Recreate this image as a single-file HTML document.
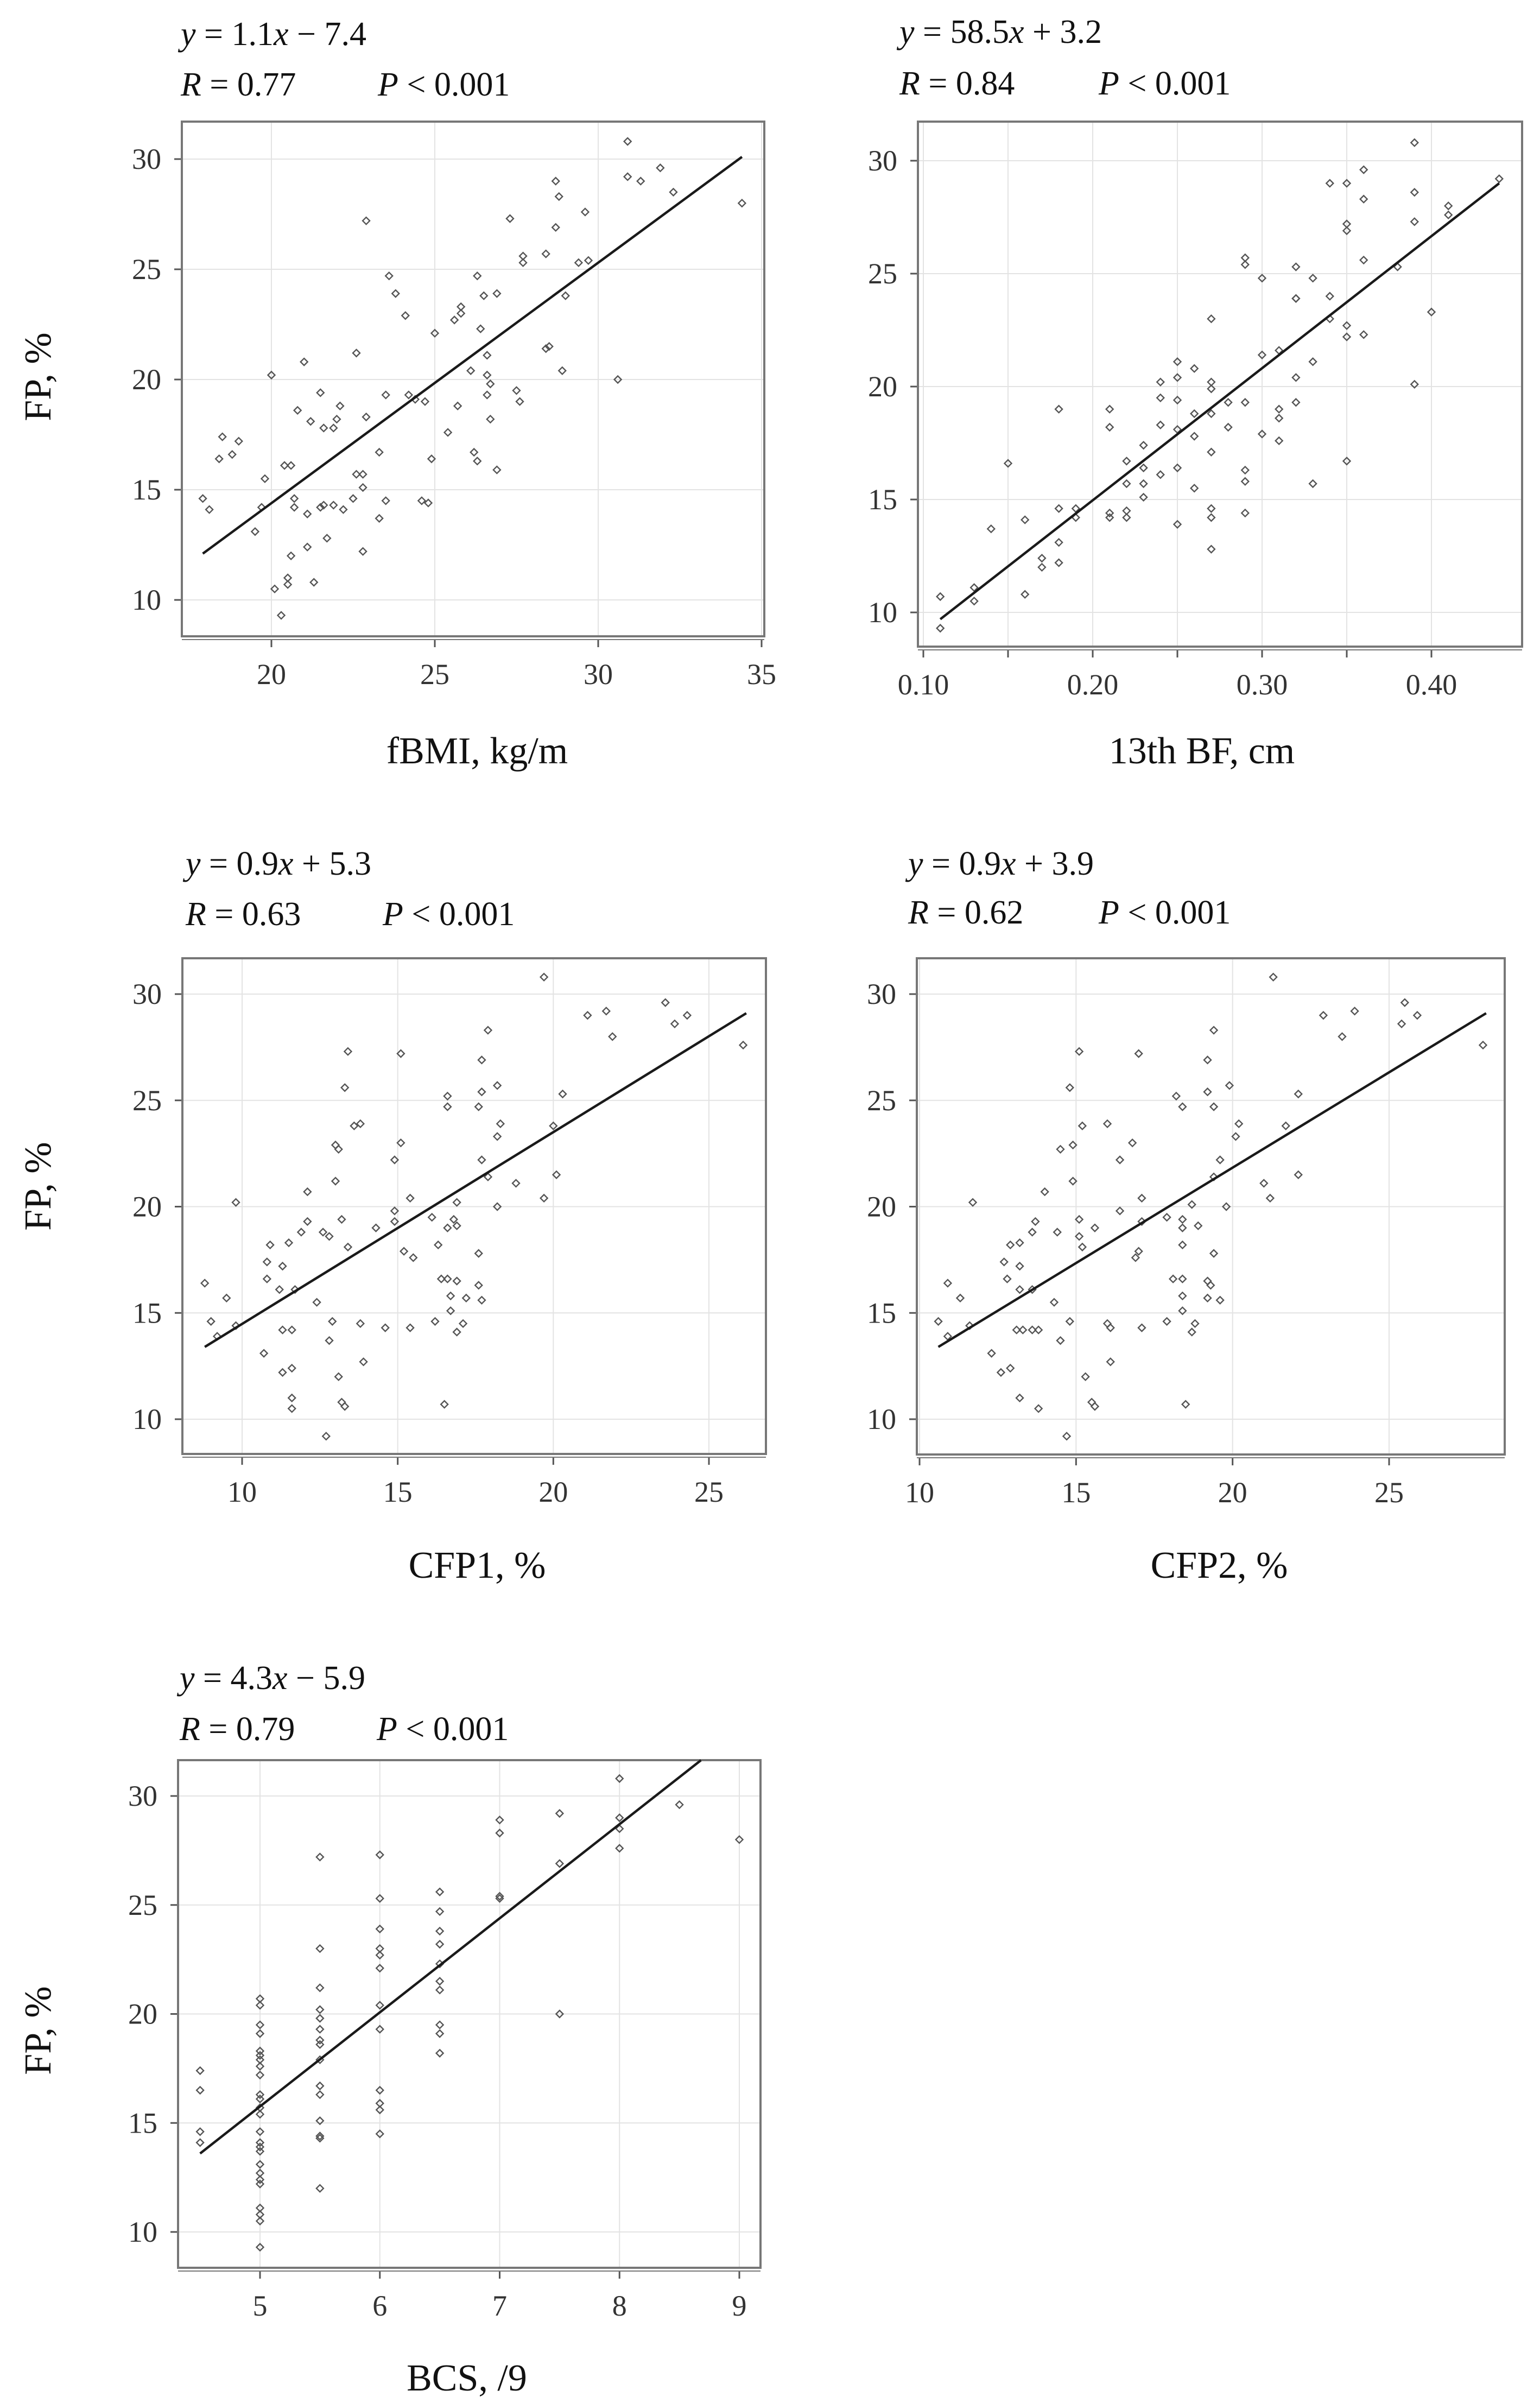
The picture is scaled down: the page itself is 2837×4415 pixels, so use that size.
<!DOCTYPE html>
<html><head><meta charset="utf-8">
<style>
html,body{margin:0;padding:0;background:#fff;}
svg{display:block;font-family:"Liberation Serif",serif;}
</style></head>
<body>
<svg id="fig" width="2837" height="4415" viewBox="0 0 2837 4415" xmlns="http://www.w3.org/2000/svg">
<rect width="2837" height="4415" fill="#fff"/>
</svg>
<script>
// ---- Panel 1: fBMI ----
const p1x=[30.9,30.9,31.3,31.9,32.3,34.4,28.7,28.8,28.7,29.6,29.4,29.7,29.0,28.4,27.7,27.7,27.3,22.9,23.6,23.8,24.1,25.0,25.6,25.8,25.8,26.3,26.5,26.9,26.4,26.1,26.6,26.6,26.7,26.6,26.7,27.5,27.6,28.4,28.5,28.9,30.6,22.6,21.0,20.0,21.5,22.1,20.8,21.2,21.6,21.9,22.0,22.9,23.5,24.2,24.4,24.7,25.7,25.4,24.9,26.2,26.3,26.9,23.3,18.5,19.0,18.4,18.8,19.8,19.7,20.4,20.6,20.7,20.7,21.1,21.5,21.6,21.9,22.2,22.5,22.6,22.8,22.8,23.5,23.3,24.6,24.8,19.5,21.1,21.7,22.8,20.6,20.5,20.5,20.1,21.3,20.3,17.9,18.1];
const p1y=[30.8,29.2,29.0,29.6,28.5,28.0,29.0,28.3,26.9,27.6,25.3,25.4,23.8,25.7,25.6,25.3,27.3,27.2,24.7,23.9,22.9,22.1,22.7,23.3,23.0,24.7,23.8,23.9,22.3,20.4,21.1,20.2,19.8,19.3,18.2,19.5,19.0,21.4,21.5,20.4,20.0,21.2,20.8,20.2,19.4,18.8,18.6,18.1,17.8,17.8,18.2,18.3,19.3,19.3,19.1,19.0,18.8,17.6,16.4,16.7,16.3,15.9,16.7,17.4,17.2,16.4,16.6,15.5,14.2,16.1,16.1,14.6,14.2,13.9,14.2,14.3,14.3,14.1,14.6,15.7,15.7,15.1,14.5,13.7,14.5,14.4,13.1,12.4,12.8,12.2,12.0,11.0,10.7,10.5,10.8,9.3,14.6,14.1];
const p1line=[17.9,12.1,34.4,30.1];
const p1xticks=[20,25,30,35];
const p1xlabels=["20","25","30","35"];
// ---- Panel 2: 13th BF ----
const p2x=[0.39,0.36,0.34,0.35,0.36,0.39,0.44,0.41,0.41,0.39,0.35,0.35,0.36,0.38,0.29,0.29,0.30,0.32,0.33,0.32,0.32,0.34,0.34,0.40,0.35,0.35,0.36,0.27,0.30,0.31,0.33,0.32,0.32,0.39,0.25,0.25,0.26,0.24,0.27,0.27,0.24,0.25,0.28,0.29,0.21,0.18,0.31,0.31,0.26,0.27,0.28,0.21,0.24,0.25,0.26,0.30,0.31,0.23,0.27,0.22,0.35,0.15,0.23,0.25,0.29,0.24,0.29,0.22,0.23,0.33,0.26,0.23,0.18,0.19,0.19,0.21,0.21,0.22,0.22,0.27,0.27,0.29,0.16,0.14,0.25,0.18,0.17,0.17,0.18,0.27,0.13,0.13,0.16,0.11,0.11];
const p2y=[30.8,29.6,29.0,29.0,28.3,28.6,29.2,28.0,27.6,27.3,27.2,26.9,25.6,25.3,25.7,25.4,24.8,25.3,24.8,23.9,23.9,24.0,23.0,23.3,22.7,22.2,22.3,23.0,21.4,21.6,21.1,20.4,19.3,20.1,21.1,20.4,20.8,20.2,20.2,19.9,19.5,19.4,19.3,19.3,19.0,19.0,19.0,18.6,18.8,18.8,18.2,18.2,18.3,18.1,17.8,17.9,17.6,17.4,17.1,16.7,16.7,16.6,16.4,16.4,16.3,16.1,15.8,15.7,15.7,15.7,15.5,15.1,14.6,14.6,14.2,14.4,14.2,14.5,14.2,14.6,14.2,14.4,14.1,13.7,13.9,13.1,12.4,12.0,12.2,12.8,11.1,10.5,10.8,10.7,9.3];
const p2line=[0.11,9.7,0.44,29.0];
const p2xticks=[0.10,0.15,0.20,0.25,0.30,0.35,0.40];
const p2xlabels=["0.10","","0.20","","0.30","","0.40"];
// ---- Panel 3: CFP1 ----
const p3x=[19.7,23.6,23.9,24.3,21.1,21.7,21.9,26.1,17.9,17.7,17.7,18.2,17.6,16.6,16.6,15.1,13.4,13.3,13.6,13.8,13.0,13.1,15.1,14.9,18.3,18.2,20.0,20.3,17.7,17.9,18.8,20.1,19.7,18.2,16.9,13.0,12.1,9.8,15.4,14.9,14.9,16.1,16.8,16.9,16.6,13.2,12.1,11.9,12.6,12.8,14.3,11.5,10.9,13.4,16.3,15.2,15.5,17.6,10.8,11.3,10.8,16.4,16.6,16.9,17.6,8.8,11.2,11.7,9.5,12.4,16.7,17.2,17.7,16.7,9.0,9.8,9.2,12.9,13.8,14.6,15.4,16.2,17.1,16.9,11.3,11.6,12.8,10.7,13.9,11.3,11.6,13.1,11.6,11.6,13.2,13.3,16.5,12.7];
const p3y=[30.8,29.6,28.6,29.0,29.0,29.2,28.0,27.6,28.3,26.9,25.4,25.7,24.7,25.2,24.7,27.2,27.3,25.6,23.8,23.9,22.9,22.7,23.0,22.2,23.9,23.3,23.8,25.3,22.2,21.4,21.1,21.5,20.4,20.0,20.2,21.2,20.7,20.2,20.4,19.8,19.3,19.5,19.4,19.1,19.0,19.4,19.3,18.8,18.8,18.6,19.0,18.3,18.2,18.1,18.2,17.9,17.6,17.8,17.4,17.2,16.6,16.6,16.6,16.5,16.3,16.4,16.1,16.1,15.7,15.5,15.8,15.7,15.6,15.1,14.6,14.4,13.9,14.6,14.5,14.3,14.3,14.6,14.5,14.1,14.2,14.2,13.7,13.1,12.7,12.2,12.4,12.0,11.0,10.5,10.8,10.6,10.7,9.2];
const p3line=[8.8,13.4,26.2,29.1];
const p3xticks=[10,15,20,25];
const p3xlabels=["10","15","20","25"];
// ---- Panel 4: CFP2 ----
const p4x=[21.3,25.5,25.4,25.9,22.9,23.9,23.5,28.0,19.4,19.2,19.2,19.9,19.4,18.2,18.4,17.0,15.1,14.8,15.2,16.0,14.9,14.5,16.8,16.4,20.2,20.1,21.7,22.1,19.6,19.4,21.0,22.1,21.2,19.8,18.7,14.9,14.0,11.7,17.1,16.4,17.1,17.9,18.4,18.9,18.4,15.1,13.7,13.6,14.4,15.1,15.6,13.2,12.9,15.2,18.4,17.0,16.9,19.4,12.7,13.2,12.8,18.1,18.4,19.2,19.3,10.9,13.2,13.6,11.3,14.3,18.4,19.2,19.6,18.4,10.6,11.6,10.9,14.8,16.0,16.1,17.1,17.9,18.8,18.7,13.1,13.3,13.6,13.8,14.5,12.3,16.1,12.6,12.9,15.3,13.2,13.8,15.5,15.6,18.5,14.7];
const p4y=[30.8,29.6,28.6,29.0,29.0,29.2,28.0,27.6,28.3,26.9,25.4,25.7,24.7,25.2,24.7,27.2,27.3,25.6,23.8,23.9,22.9,22.7,23.0,22.2,23.9,23.3,23.8,25.3,22.2,21.4,21.1,21.5,20.4,20.0,20.1,21.2,20.7,20.2,20.4,19.8,19.3,19.5,19.4,19.1,19.0,19.4,19.3,18.8,18.8,18.6,19.0,18.3,18.2,18.1,18.2,17.9,17.6,17.8,17.4,17.2,16.6,16.6,16.6,16.5,16.3,16.4,16.1,16.1,15.7,15.5,15.8,15.7,15.6,15.1,14.6,14.4,13.9,14.6,14.5,14.3,14.3,14.6,14.5,14.1,14.2,14.2,14.2,14.2,13.7,13.1,12.7,12.2,12.4,12.0,11.0,10.5,10.8,10.6,10.7,9.2];
const p4line=[10.6,13.4,28.1,29.1];
const p4xticks=[10,15,20,25];
const p4xlabels=["10","15","20","25"];
// ---- Panel 5: BCS ----
const p5x=[4.5,4.5,4.5,4.5,5,5,5,5,5,5,5,5,5,5,5,5,5,5,5,5,5,5,5,5,5,5,5,5,5,5.5,5.5,5.5,5.5,5.5,5.5,5.5,5.5,5.5,5.5,5.5,5.5,5.5,5.5,5.5,6,6,6,6,6,6,6,6,6,6,6,6,6.5,6.5,6.5,6.5,6.5,6.5,6.5,6.5,6.5,6.5,7,7,7,7,7.5,7.5,7.5,8,8,8,8,8.5,9];
const p5y=[17.4,16.5,14.6,14.1,20.7,20.4,19.5,19.1,18.3,18.1,17.9,17.6,17.2,16.3,16.1,15.7,15.4,14.6,14.1,13.9,13.7,13.1,12.7,12.4,12.2,11.1,10.8,10.5,9.3,27.2,23.0,21.2,20.2,19.8,19.3,18.8,18.6,17.9,16.7,16.3,15.1,14.4,14.3,12.0,27.3,25.3,23.9,23.0,22.7,22.1,20.4,19.3,16.5,15.9,15.6,14.5,25.6,24.7,23.8,23.2,22.3,21.5,21.1,19.5,19.1,18.2,28.9,28.3,25.4,25.3,29.2,26.9,20.0,30.8,29.0,28.5,27.6,29.6,28.0];
const p5line=[4.5,13.6,8.68,31.64];
const p5xticks=[5,6,7,8,9];
const p5xlabels=["5","6","7","8","9"];
const yticks=[10,15,20,25,30];
const ylabels=["10","15","20","25","30"];

const NS="http://www.w3.org/2000/svg";
const svg=document.getElementById('fig');
function mk(tag,attrs,parent){const e=document.createElementNS(NS,tag);for(const k in attrs)e.setAttribute(k,attrs[k]);(parent||svg).appendChild(e);return e;}

const panels=[
 {id:'fbmi',xs:p1x,ys:p1y,line:p1line,xt:p1xticks,xl:p1xlabels,box:[335,1408,224,1172],xm:[20,500,35,1403],ym:[30,293,10,1105],eq:"1.1",sign:"\u2212",b:"7.4",r:"0.77",tx:333,ty:83,ry:176,px:696,xtitle:"fBMI, kg/m",xtx:879,xty:1406,ytitle:[69,694]},
 {id:'bf13',xs:p2x,ys:p2y,line:p2line,xt:p2xticks,xl:p2xlabels,box:[1691,2804,224,1191],xm:[0.10,1701,0.40,2637],ym:[30,296,10,1128],eq:"58.5",sign:"+",b:"3.2",r:"0.84",tx:1657,ty:79,ry:174,px:2024,xtitle:"13th BF, cm",xtx:2214,xty:1406,ytitle:null},
 {id:'cfp1',xs:p3x,ys:p3y,line:p3line,xt:p3xticks,xl:p3xlabels,box:[336,1411,1765,2678],xm:[10,446,25,1306],ym:[30,1831,10,2614],eq:"0.9",sign:"+",b:"5.3",r:"0.63",tx:342,ty:1611,ry:1704,px:705,xtitle:"CFP1, %",xtx:879,xty:2906,ytitle:[69,2185]},
 {id:'cfp2',xs:p4x,ys:p4y,line:p4line,xt:p4xticks,xl:p4xlabels,box:[1689,2772,1765,2679],xm:[10,1694,25,2559],ym:[30,1831,10,2614],eq:"0.9",sign:"+",b:"3.9",r:"0.62",tx:1673,ty:1611,ry:1701,px:2024,xtitle:"CFP2, %",xtx:2246,xty:2906,ytitle:null},
 {id:'bcs',xs:p5x,ys:p5y,line:p5line,xt:p5xticks,xl:p5xlabels,box:[328,1401,3242,4177],xm:[5,479,9,1362],ym:[30,3308,10,4111],eq:"4.3",sign:"\u2212",b:"5.9",r:"0.79",tx:331,ty:3111,ry:3205,px:694,xtitle:"BCS, /9",xtx:860,xty:4403,ytitle:[69,3740]}
];

panels.forEach(p=>{
  const g=mk('g',{});
  
  
  const sx=v=>p.xm[1]+(v-p.xm[0])*(p.xm[3]-p.xm[1])/(p.xm[2]-p.xm[0]);
  const sy=v=>p.ym[1]+(v-p.ym[0])*(p.ym[3]-p.ym[1])/(p.ym[2]-p.ym[0]);
  const [L,R,T,B]=p.box;
  p.xt.forEach((t,i)=>{
    const x=sx(t);
    const gl=mk('line',{x1:x,x2:x,y1:T,y2:B,stroke:'#e3e3e3','stroke-width':2},g);
    
    
    const tk=mk('line',{x1:x,x2:x,y1:B+6,y2:B+20,stroke:'#555','stroke-width':3},g);
    
    
    if(p.xl[i]){
      const tl=mk('text',{x:x,y:B+88,'font-size':54,'text-anchor':'middle',fill:'#333'},g);
      tl.textContent=p.xl[i];
      
      
    }
  });
  mk('line',{x1:L,x2:R,y1:B+6,y2:B+6,stroke:'#777','stroke-width':2},g);
  yticks.forEach((t,i)=>{
    const y=sy(t);
    const gl=mk('line',{x1:L,x2:R,y1:y,y2:y,stroke:'#e3e3e3','stroke-width':2},g);
    
    
    const tk=mk('line',{x1:L-14,x2:L,y1:y,y2:y,stroke:'#555','stroke-width':3},g);
    
    
    const tl=mk('text',{x:L-38,y:y+18,'font-size':54,'text-anchor':'end',fill:'#333'},g);
    tl.textContent=ylabels[i];
    
    
  });
  const box=mk('rect',{x:L,y:T,width:R-L,height:B-T,fill:'none',stroke:'#777','stroke-width':4},g);
  
  
  p.xs.forEach((v,i)=>{
    const cx=sx(v),cy=sy(p.ys[i]),s=6.5;
    const d=mk('polygon',{points:`${cx},${cy-s} ${cx+s},${cy} ${cx},${cy+s} ${cx-s},${cy}`,fill:'none',stroke:'#555','stroke-width':2.4},g);
    
    
  });
  const ln=mk('line',{x1:sx(p.line[0]),y1:sy(p.line[1]),x2:sx(p.line[2]),y2:sy(p.line[3]),stroke:'#1a1a1a','stroke-width':4.5},g);
  
  
  const eq=mk('text',{x:p.tx,y:p.ty,'font-size':62,fill:'#111'},g);
  eq.innerHTML=`<tspan font-style="italic">y</tspan> = ${p.eq}<tspan font-style="italic">x</tspan> ${p.sign} ${p.b}`;
  
  
  const rt=mk('text',{x:p.tx,y:p.ry,'font-size':62,fill:'#111'},g);
  rt.innerHTML=`<tspan font-style="italic">R</tspan> = ${p.r}`;
  
  
  const pt=mk('text',{x:p.px,y:p.ry,'font-size':62,fill:'#111'},g);
  pt.innerHTML=`<tspan font-style="italic">P</tspan> &lt; 0.001`;
  
  
  const xt=mk('text',{x:p.xtx,y:p.xty,'font-size':70,'text-anchor':'middle',fill:'#111'},g);
  xt.textContent=p.xtitle;
  
  
  if(p.ytitle){
    const yt=mk('text',{x:0,y:0,'font-size':70,'text-anchor':'middle',fill:'#111',transform:`translate(${p.ytitle[0]+24},${p.ytitle[1]}) rotate(-90)`},g);
    yt.textContent='FP, %';
    
    
  }
});
</script>
</body></html>
